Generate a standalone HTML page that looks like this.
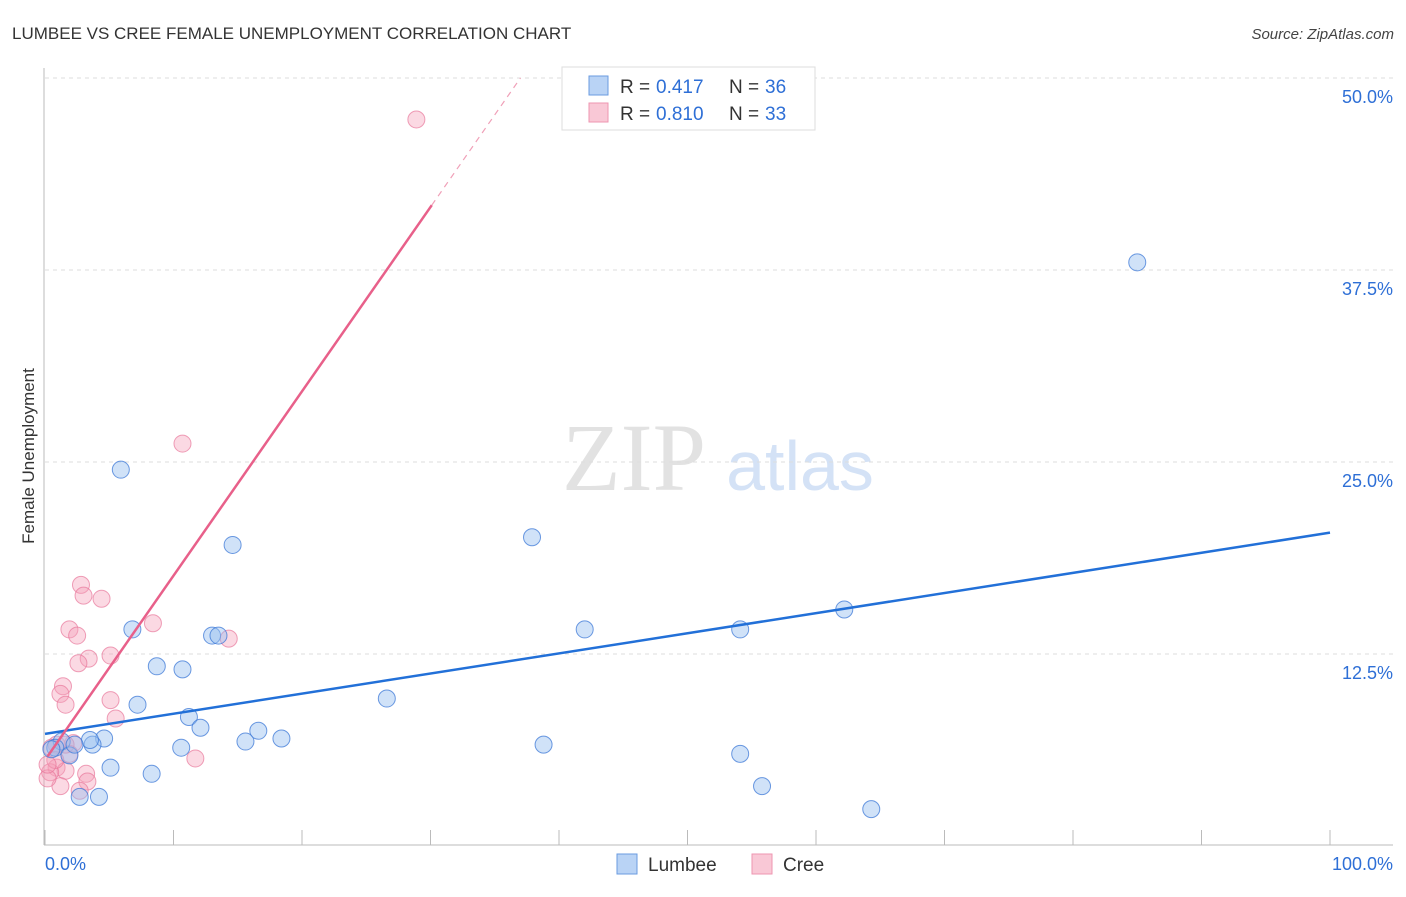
<!DOCTYPE html>
<html><head><meta charset="utf-8"><style>
body{margin:0;background:#fff;font-family:"Liberation Sans",sans-serif}
svg text{font-family:"Liberation Sans",sans-serif}
</style></head><body>
<svg id="c" width="1406" height="892">
<text x="12" y="39" font-size="17" fill="#333">LUMBEE VS CREE FEMALE UNEMPLOYMENT CORRELATION CHART</text>
<text x="1394" y="39" font-size="15" fill="#444" font-style="italic" text-anchor="end">Source: ZipAtlas.com</text>
<text x="634" y="490" font-size="96" fill="#e2e2e2" text-anchor="middle" style="font-family:'Liberation Serif',serif">ZIP</text>
<text x="800" y="490" font-size="70" fill="#d4e2f6" text-anchor="middle">atlas</text>
<text x="34" y="456" font-size="17" fill="#333" text-anchor="middle" transform="rotate(-90 34 456)">Female Unemployment</text>
<g id="grid"></g><g id="axes"></g><g id="pts"></g><g id="trend"></g>
<g>
<rect x="562" y="67" width="253" height="63" fill="#fff" stroke="#ddd"/>
<rect x="589" y="76" width="19" height="19" fill="#b9d3f5" stroke="#6a9be0"/>
<rect x="589" y="103" width="19" height="19" fill="#f9c8d6" stroke="#ee96b0"/>
<text x="620" y="93" font-size="19" fill="#333">R =</text>
<text x="656" y="93" font-size="19" fill="#2e6fd6">0.417</text>
<text x="729" y="93" font-size="19" fill="#333">N =</text>
<text x="765" y="93" font-size="19" fill="#2e6fd6">36</text>
<text x="620" y="120" font-size="19" fill="#333">R =</text>
<text x="656" y="120" font-size="19" fill="#2e6fd6">0.810</text>
<text x="729" y="120" font-size="19" fill="#333">N =</text>
<text x="765" y="120" font-size="19" fill="#2e6fd6">33</text>
</g>
<g>
<rect x="617" y="854" width="20" height="20" fill="#b9d3f5" stroke="#6a9be0"/>
<text x="648" y="871" font-size="19" fill="#333">Lumbee</text>
<rect x="752" y="854" width="20" height="20" fill="#f9c8d6" stroke="#ee96b0"/>
<text x="783" y="871" font-size="19" fill="#333">Cree</text>
</g>
</svg>
<script>
const yTicks=[12.5,25,37.5,50];
const xTickLabels=["0.0%","100.0%"];
const lumbeeX=[5.9,14.6,37.9,85.0,6.8,42.0,54.1,62.2,13.0,13.5,8.7,10.7,7.2,26.6,11.2,12.1,15.6,16.6,18.4,38.8,10.6,4.6,3.7,3.5,1.3,0.8,1.9,5.1,8.3,54.1,55.8,2.7,4.2,64.3,0.5,2.3];
const lumbeeY=[24.5,19.6,20.1,38.0,14.1,14.1,14.1,15.4,13.7,13.7,11.7,11.5,9.2,9.6,8.4,7.7,6.8,7.5,7.0,6.6,6.4,7.0,6.6,6.9,6.8,6.4,5.9,5.1,4.7,6.0,3.9,3.2,3.2,2.4,6.3,6.6];
const creeX=[28.9,10.7,2.8,3.0,4.4,1.9,2.5,8.4,14.3,3.4,2.6,5.1,1.4,1.2,1.6,5.1,5.5,0.9,2.2,1.9,0.5,11.7,0.9,1.6,0.4,3.2,3.3,1.2,2.7,0.2,0.8,1.6,0.2];
const creeY=[47.3,26.2,17.0,16.3,16.1,14.1,13.7,14.5,13.5,12.2,11.9,12.4,10.4,9.9,9.2,9.5,8.3,6.6,6.7,6.0,6.4,5.7,5.1,4.9,4.8,4.7,4.2,3.9,3.6,4.4,5.6,6.6,5.3];
const lumbeeTrend=[7.3,20.4];
const creeTrend=[5.6,1.2];
const X=v=>45+v*12.85, Y=v=>846-v*15.36;
const NS="http://www.w3.org/2000/svg";
function mk(t,a,p){const e=document.createElementNS(NS,t);for(const k in a)e.setAttribute(k,a[k]);document.getElementById(p).appendChild(e);return e;}
yTicks.forEach(t=>{
 const l=mk('line',{x1:45,x2:1393,y1:Y(t),y2:Y(t),stroke:'#ddd','stroke-dasharray':'4,4'},'grid');
 
 
 const tx=mk('text',{x:1393,y:Y(t)+25,'font-size':18,fill:'#2e6fd6','text-anchor':'end'},'grid');
 tx.textContent=t.toFixed(1)+'%';
 
 
});
mk('line',{x1:44,x2:44,y1:68,y2:845,stroke:'#bbb'},'axes');
mk('line',{x1:44,x2:1393,y1:845,y2:845,stroke:'#bbb'},'axes');
for(let i=0;i<=10;i++){mk('line',{x1:X(i*10),x2:X(i*10),y1:830,y2:845,stroke:'#bbb'},'axes');}
[[0,'start',45],[1,'end',1393]].forEach(([i,a,x])=>{
 const t=mk('text',{x:x,y:870,'font-size':18,fill:'#2e6fd6','text-anchor':a},'axes');
 t.textContent=xTickLabels[i];
 
 
});
creeX.forEach((v,i)=>{
 const c=mk('circle',{cx:X(v),cy:Y(creeY[i]),r:8.5,fill:'rgba(244,160,185,0.4)',stroke:'rgba(232,120,155,0.7)'},'pts');
 
 
});
lumbeeX.forEach((v,i)=>{
 const c=mk('circle',{cx:X(v),cy:Y(lumbeeY[i]),r:8.5,fill:'rgba(150,190,240,0.45)',stroke:'rgba(60,120,215,0.75)'},'pts');
 
 
});
const bl=mk('line',{x1:X(0),y1:Y(lumbeeTrend[0]),x2:X(100),y2:Y(lumbeeTrend[1]),stroke:'#2270d8','stroke-width':2.5},'trend');


const xe=30.1, xd=(50-creeTrend[0])/creeTrend[1];
const pl=mk('line',{x1:X(0.2),y1:Y(creeTrend[0]+0.2*creeTrend[1]),x2:X(xe),y2:Y(creeTrend[0]+xe*creeTrend[1]),stroke:'#e8608a','stroke-width':2.5},'trend');


const pd=mk('line',{x1:X(xe),y1:Y(creeTrend[0]+xe*creeTrend[1]),x2:X(xd),y2:Y(50),stroke:'#f0a0b8','stroke-width':1.2,'stroke-dasharray':'6,5'},'trend');


</script>
</body></html>
